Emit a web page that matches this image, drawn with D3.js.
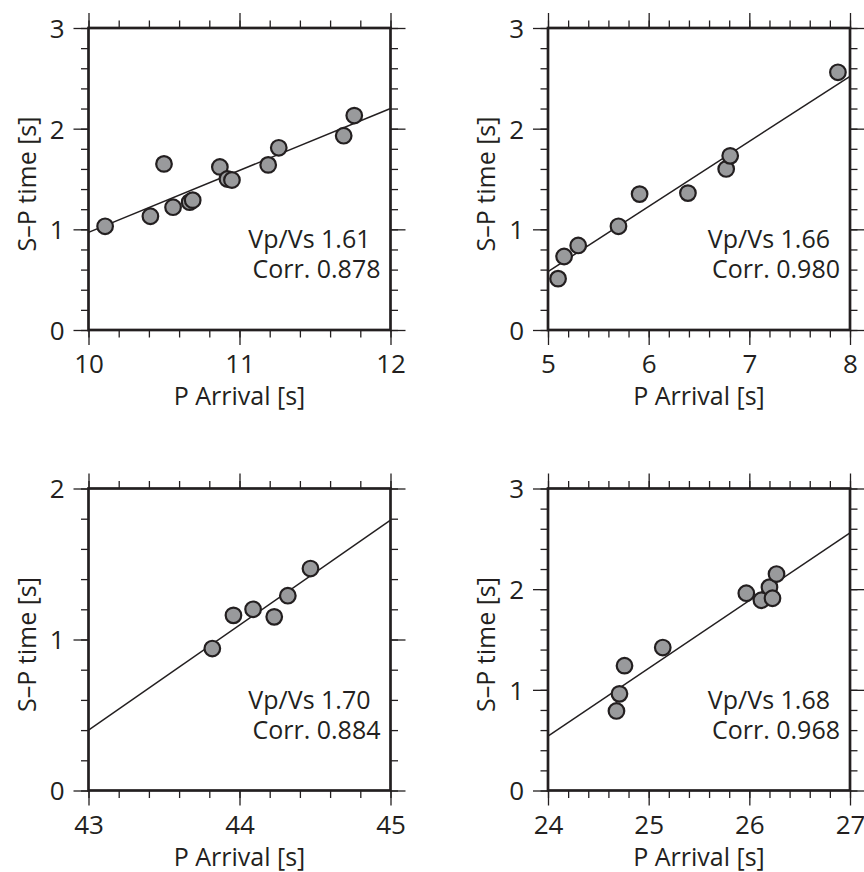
<!DOCTYPE html>
<html>
<head>
<meta charset="utf-8">
<script src="https://cdn.jsdelivr.net/npm/d3@7"></script>
<style>
  body { margin: 0; background: #fff; }
  text { font-family: "Open Sans", sans-serif; fill: #231f20; }
</style>
</head>
<body>
<script>
// panel data
const xDomains = [[10, 12], [5, 8], [43, 45], [24, 27]];
const yDomains = [[0, 3], [0, 3], [0, 2], [0, 3]];

const p1X = [10.11, 10.41, 10.50, 10.56, 10.67, 10.69, 10.87, 10.92, 10.95, 11.19, 11.26, 11.69, 11.76];
const p1Y = [1.03, 1.13, 1.65, 1.22, 1.27, 1.29, 1.62, 1.50, 1.49, 1.64, 1.81, 1.93, 2.13];

const p2X = [5.10, 5.16, 5.30, 5.70, 5.91, 6.39, 6.77, 6.81, 7.88];
const p2Y = [0.51, 0.73, 0.84, 1.03, 1.35, 1.36, 1.60, 1.73, 2.56];

const p3X = [43.82, 43.96, 44.09, 44.23, 44.32, 44.47];
const p3Y = [0.94, 1.16, 1.20, 1.15, 1.29, 1.47];

const p4X = [24.68, 24.71, 24.76, 25.14, 25.97, 26.12, 26.20, 26.23, 26.27];
const p4Y = [0.79, 0.96, 1.24, 1.42, 1.96, 1.89, 2.02, 1.91, 2.15];

// fitted line: S-P value at the left and right end of each x axis
const fitStart = [0.97, 0.58, 0.40, 0.54];
const fitEnd = [2.20, 2.52, 1.79, 2.56];

const vpvs = ['1.61', '1.66', '1.70', '1.68'];
const corr = ['0.878', '0.980', '0.884', '0.968'];

const xs = [p1X, p2X, p3X, p4X];
const ys = [p1Y, p2Y, p3Y, p4Y];

const width = 864;
const height = 872;
const size = 302;
const lefts = [88.5, 548, 88.5, 548];
const tops = [28, 28, 488.5, 488.5];
const majorStep = 1;
const minorStep = 0.2;

const svg = d3.select('body')
  .append('svg')
  .attr('width', width)
  .attr('height', height);

function steps(domain, step) {
  const n = Math.round((domain[1] - domain[0]) / step);
  return d3.range(n + 1).map(i => +(domain[0] + i * step).toFixed(6));
}

xs.forEach((px, k) => {
  const py = ys[k];
  const x = d3.scaleLinear().domain(xDomains[k]).range([0, size]);
  const y = d3.scaleLinear().domain(yDomains[k]).range([size, 0]);

  const g = svg.append('g')
    .attr('transform', `translate(${lefts[k]}, ${tops[k]})`);

  const xMajor = steps(xDomains[k], majorStep);
  const xMinor = steps(xDomains[k], minorStep);
  const yMajor = steps(yDomains[k], majorStep);
  const yMinor = steps(yDomains[k], minorStep);

  // ticks on all four sides, labels only bottom and left
  const sides = [
    [d3.axisBottom(x), `translate(0, ${size})`, xMinor, xMajor],
    [d3.axisTop(x), 'translate(0, 0)', xMinor, xMajor],
    [d3.axisLeft(y), 'translate(0, 0)', yMinor, yMajor],
    [d3.axisRight(y), `translate(${size}, 0)`, yMinor, yMajor]
  ];

  sides.forEach(([axis, tr, minor, major], s) => {
    const minorG = g.append('g')
      .attr('transform', tr)
      .call(axis.tickValues(minor).tickSize(7.5).tickSizeOuter(0).tickFormat(''));
    minorG.select('.domain').remove();
    minorG.selectAll('line').attr('stroke', '#231f20').attr('stroke-width', 1.3);

    const majorG = g.append('g')
      .attr('transform', tr)
      .call(axis.tickValues(major).tickSize(15).tickSizeOuter(0)
        .tickFormat(s === 0 || s === 2 ? d3.format('d') : ''));
    majorG.select('.domain').remove();
    majorG.selectAll('line').attr('stroke', '#231f20').attr('stroke-width', 1.3);
    majorG.attr('font-size', null).attr('font-family', null);

    if (s === 0) {
      majorG.selectAll('text')
        .attr('y', 43).attr('dy', 0)
        .style('font-size', '26px');
    }
    if (s === 2) {
      majorG.selectAll('text')
        .attr('x', -24).attr('dy', '0.36em')
        .style('font-size', '26px');
    }
  });

  // fit line
  g.append('line')
    .attr('x1', x(xDomains[k][0]))
    .attr('y1', y(fitStart[k]))
    .attr('x2', x(xDomains[k][1]))
    .attr('y2', y(fitEnd[k]))
    .attr('stroke', '#231f20')
    .attr('stroke-width', 1.5);

  // points
  g.selectAll('circle')
    .data(px.map((v, i) => [v, py[i]]))
    .enter()
    .append('circle')
    .attr('cx', d => x(d[0]))
    .attr('cy', d => y(d[1]))
    .attr('r', 7.8)
    .attr('fill', '#999a9c')
    .attr('stroke', '#231f20')
    .attr('stroke-width', 2.2);

  // frame
  g.append('rect')
    .attr('width', size)
    .attr('height', size)
    .attr('fill', 'none')
    .attr('stroke', '#231f20')
    .attr('stroke-width', 2.7);

  // annotation
  g.append('text')
    .attr('x', size - 20)
    .attr('y', size - 82)
    .attr('text-anchor', 'end')
    .style('font-size', '25px')
    .text(`Vp/Vs ${vpvs[k]}`);

  g.append('text')
    .attr('x', size - 10)
    .attr('y', size - 52)
    .attr('text-anchor', 'end')
    .style('font-size', '25px')
    .text(`Corr. ${corr[k]}`);

  // axis titles
  g.append('text')
    .attr('x', size / 2)
    .attr('y', size + 75)
    .attr('text-anchor', 'middle')
    .style('font-size', '25px')
    .text('P Arrival [s]');

  g.append('text')
    .attr('transform', `translate(-53, ${size / 2 + 5}) rotate(-90)`)
    .attr('text-anchor', 'middle')
    .style('font-size', '25px')
    .text('S–P time [s]');
});
</script>
</body>
</html>
